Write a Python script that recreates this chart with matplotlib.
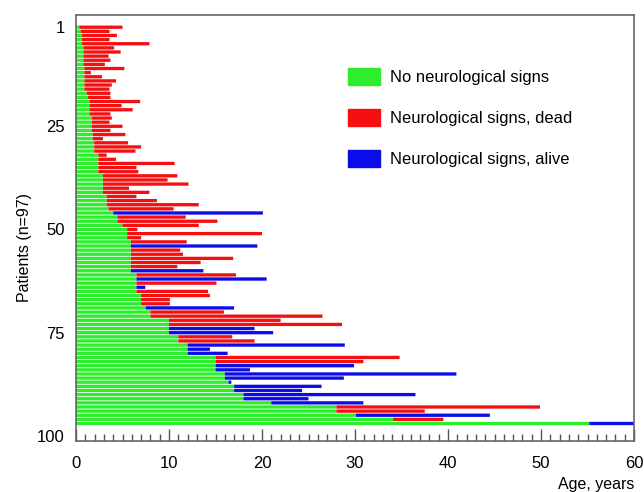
import numpy as np
import matplotlib
matplotlib.use("Agg")
import matplotlib.pyplot as plt
from matplotlib.patches import Patch
from matplotlib.ticker import MultipleLocator

plt.rcParams['font.family'] = ['Liberation Sans', 'DejaVu Sans']

# age (years) when neurological signs appeared, one value per patient
onset = [0.35, 0.5, 0.65, 0.65, 0.65, 0.8, 0.8, 0.8, 0.8, 0.8,
         0.9, 0.9, 0.9, 0.9, 0.9, 0.9, 1.15, 1.3, 1.45, 1.45,
         1.45, 1.45, 1.7, 1.7, 1.7, 1.7, 1.8, 1.8, 1.95, 1.95,
         1.95, 2.4, 2.4, 2.4, 2.4, 2.4, 2.9, 2.9, 2.9, 2.9,
         2.9, 3.3, 3.3, 3.3, 3.5, 4.0, 4.45, 4.45, 5.0, 5.5,
         5.5, 5.5, 5.9, 5.9, 5.9, 5.9, 5.9, 5.9, 5.9, 5.9,
         6.5, 6.5, 6.5, 6.5, 6.5, 7.0, 7.0, 7.0, 7.5, 8.0,
         8.0, 10.0, 10.0, 10.0, 10.0, 11.0, 11.0, 12.0, 12.0, 12.0,
         15.0, 15.0, 15.0, 15.0, 16.0, 16.0, 16.4, 17.0, 17.0, 18.0,
         18.0, 21.0, 28.0, 28.0, 30.1, 34.1, 55.2]

# age at death or at last follow-up
last_age = [5.0, 3.6, 4.4, 3.6, 7.9, 4.1, 4.8, 3.5, 3.7, 3.1,
            5.2, 1.6, 2.8, 4.3, 3.85, 3.6, 3.7, 3.7, 6.9, 4.9,
            6.1, 3.7, 3.85, 3.6, 5.0, 3.7, 5.3, 2.9, 5.6, 7.0,
            6.4, 3.3, 4.3, 10.6, 6.5, 6.7, 10.9, 9.85, 12.1, 5.7,
            7.9, 6.5, 8.7, 13.2, 10.5, 20.1, 11.8, 15.2, 13.2, 6.6,
            20.0, 7.0, 11.9, 19.5, 11.2, 11.5, 16.9, 13.4, 10.9, 13.7,
            17.2, 20.5, 15.1, 7.45, 14.2, 14.4, 10.1, 10.1, 17.0, 15.9,
            26.5, 22.0, 28.6, 19.2, 21.2, 16.8, 19.2, 28.9, 14.4, 16.3,
            34.8, 30.9, 29.9, 18.7, 40.9, 28.8, 16.7, 26.4, 24.3, 36.5,
            25.0, 30.9, 49.9, 37.5, 44.5, 39.5, 60.0]

# patients still alive (1-based row numbers), all others dead
alive_rows = [46, 54, 60, 62, 64, 69, 74, 75, 78, 79, 80, 83, 84, 85,
              86, 87, 88, 89, 90, 91, 92, 95, 97]

ytick_vals = [1, 25, 50, 75, 100]
xtick_vals = [0, 10, 20, 30, 40, 50, 60]

GREEN = '#2cee2c'
RED = '#f41010'
BLUE = '#0c0ce8'

onset = np.array(onset)
last_age = np.array(last_age)
patients = np.arange(1, len(onset) + 1)
colors = [BLUE if p in alive_rows else RED for p in patients]

fig = plt.figure(figsize=(6.44, 4.92), dpi=100)
ax = fig.add_axes([76 / 644, 1 - 441 / 492, 558 / 644, 426 / 492])

# green = time without signs, then red/blue up to death / last visit
ax.barh(patients, onset, height=0.8, color=GREEN, linewidth=0, snap=False)
ax.barh(patients, last_age - onset, left=onset, height=0.8, color=colors,
        linewidth=0, snap=False)

ax.set_xlim(0, 60)
ax.set_ylim(101.24, -1.96)

ax.set_xticks(xtick_vals)
ax.xaxis.set_minor_locator(MultipleLocator(1))
ax.tick_params(axis='x', which='major', direction='in', length=9, width=1,
               color='#555555', labelsize=12, pad=11)
ax.tick_params(axis='x', which='minor', direction='in', length=5, width=1,
               color='#555555')
ax.set_yticks(ytick_vals)
ax.tick_params(axis='y', length=0, labelsize=12, pad=8)

for s in ax.spines.values():
    s.set_color('#666666')
    s.set_linewidth(1.2)

ax.set_xlabel("Age, years", fontsize=11.5, ha='right')
ax.xaxis.set_label_coords(1.0, -0.085)
ax.set_ylabel("Patients (n=97)", fontsize=11.5)
ax.yaxis.set_label_coords(-0.079, 0.454)

handles = [Patch(color=GREEN, label="No neurological signs"),
           Patch(color=RED, label="Neurological signs, dead"),
           Patch(color=BLUE, label="Neurological signs, alive")]
fig.legend(handles=handles, loc='upper left', bbox_to_anchor=(348 / 644, 1 - 68 / 492),
           frameon=False, fontsize=11.9, handlelength=1.95, handleheight=1.22,
           handletextpad=0.61, labelspacing=1.45, borderpad=0, borderaxespad=0)

fig.savefig("out.png", dpi=100)
